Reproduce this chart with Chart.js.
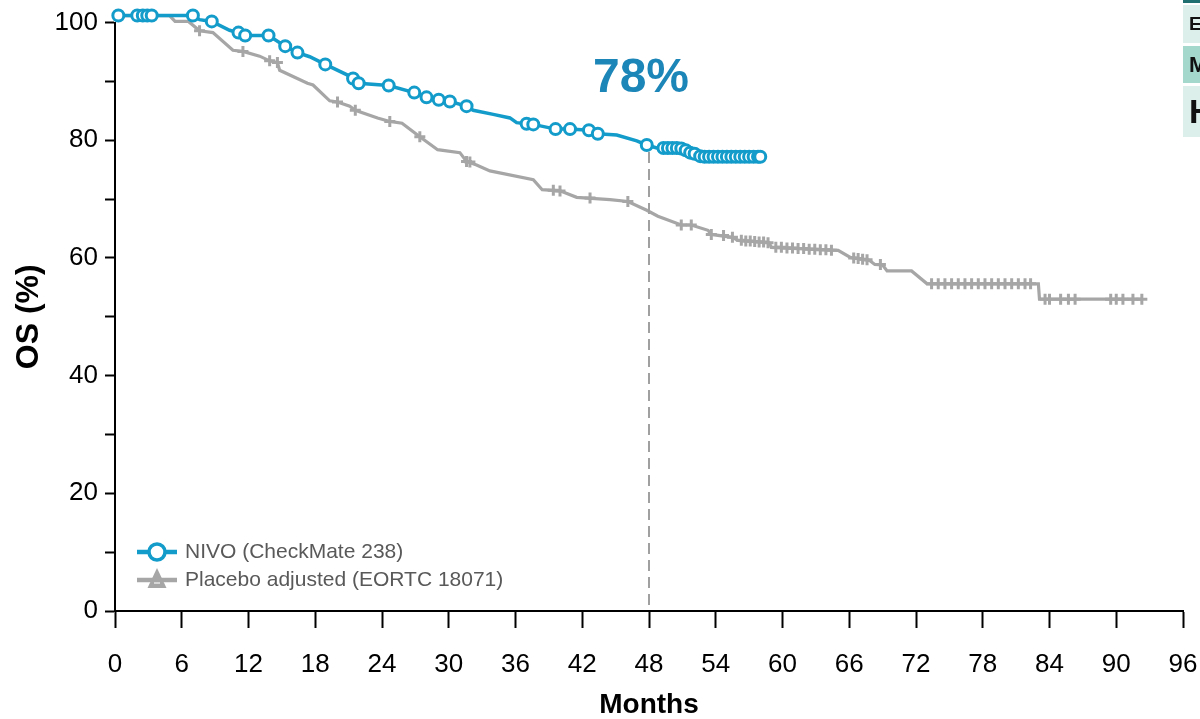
<!DOCTYPE html>
<html>
<head>
<meta charset="utf-8">
<script src="https://cdn.jsdelivr.net/npm/chart.js@4.4.1/dist/chart.umd.min.js"></script>
<style>
  html, body { margin: 0; padding: 0; background: #fff; overflow: hidden; }
  #wrap { position: relative; width: 1200px; height: 719px; overflow: hidden; }
  canvas { display: block; }
  .cell { position: absolute; left: 1183px; width: 40px; box-sizing: border-box; padding-left: 6px;
          font-family: "Liberation Sans", Arial, sans-serif; font-weight: bold; color: #111; }
</style>
</head>
<body>
<div id="wrap">
  <canvas id="os" width="1200" height="719"></canvas>
  <div class="cell" style="top:0;height:3px;background:#1f6e70"></div>
  <div class="cell" style="top:5px;height:38px;line-height:38px;font-size:19px;background:#dcefeb">E</div>
  <div class="cell" style="top:46px;height:37px;line-height:37px;font-size:22px;background:#a5d8cc">M</div>
  <div class="cell" style="top:86px;height:51px;line-height:51px;font-size:34px;background:#dcefeb">H</div>
</div>
<script>
// Kaplan–Meier overall survival, NIVO (CheckMate 238)
const nivoMonths = [0, 7.0, 7.6, 8.7, 10.3, 11.1, 11.7, 13.8, 15.3, 16.4, 17.5, 18.9, 21.0, 21.9, 24.6, 26.9, 28.0, 29.1, 30.1, 31.6,
  32.2, 34.0, 35.5, 36.1, 37.6, 39.6, 40.9, 42.6, 43.4, 45.1, 46.9, 47.8, 48.7, 50.8, 51.5, 52.6, 58.0];
const nivoOS = [101.2, 101.2, 100.5, 100.2, 98.7, 98.3, 97.8, 97.8, 96.0, 94.9, 94.2, 92.9, 91.0, 89.7, 89.3, 88.1, 87.3, 86.9, 86.6, 85.8,
  85.1, 84.4, 83.8, 83.0, 82.7, 81.9, 81.9, 81.7, 81.1, 80.9, 79.9, 79.2, 78.7, 78.6, 77.9, 77.3, 77.2];

// NIVO censored observations
const nivoCensorMonths = [0.3, 2.0, 2.5, 2.9, 3.3, 7.0, 8.7, 11.1, 11.7, 13.8, 15.3, 16.4, 18.9, 21.4, 21.9, 24.6, 26.9, 28.0, 29.1, 30.1,
  31.6, 37.0, 37.6, 39.6, 40.9, 42.6, 43.4, 47.8, 49.3, 49.7, 50.1, 50.5, 50.9, 51.3, 51.7, 52.1, 52.6, 53.0, 53.4, 53.8,
  54.2, 54.6, 55.0, 55.4, 55.8, 56.2, 56.6, 57.0, 57.4, 57.8, 58.0];
const nivoCensorOS = [101.2, 101.2, 101.2, 101.2, 101.2, 101.2, 100.2, 98.3, 97.8, 97.8, 96.0, 94.9, 92.9, 90.5, 89.7, 89.3, 88.1, 87.3, 86.9, 86.6,
  85.8, 82.8, 82.7, 81.9, 81.9, 81.7, 81.1, 79.2, 78.7, 78.7, 78.7, 78.7, 78.6, 78.3, 77.9, 77.7, 77.3, 77.2, 77.2, 77.2,
  77.2, 77.2, 77.2, 77.2, 77.2, 77.2, 77.2, 77.2, 77.2, 77.2, 77.2];

// Kaplan–Meier overall survival, placebo adjusted (EORTC 18071)
const placeboMonths = [0, 4.9, 5.4, 6.6, 7.6, 8.8, 10.6, 11.5, 13.0, 13.9, 14.6, 14.8, 17.3, 17.8, 19.3, 20.0, 21.1, 21.6, 23.6, 24.7,
  25.8, 27.4, 29.0, 31.0, 31.6, 32.5, 33.7, 37.6, 38.4, 40.0, 41.5, 44.5, 46.1, 47.8, 48.8, 50.9, 51.8, 53.3, 53.6, 55.5,
  56.0, 58.8, 59.0, 65.0, 66.1, 67.8, 68.3, 69.0, 69.4, 71.6, 73.0, 83.0, 83.1, 92.3];
const placeboOS = [101.2, 101.2, 100.2, 100.2, 98.6, 98.3, 95.3, 95.1, 94.3, 93.5, 93.2, 91.9, 89.7, 89.4, 86.7, 86.5, 85.8, 85.1, 83.8, 83.2,
  82.9, 80.6, 78.4, 77.9, 76.4, 75.8, 74.8, 73.3, 71.6, 71.4, 70.3, 69.9, 69.6, 68.1, 67.1, 65.6, 65.6, 64.7, 64.0, 63.5,
  63.0, 62.6, 61.8, 61.3, 60.1, 59.6, 58.9, 58.8, 57.8, 57.8, 55.6, 55.6, 53.0, 53.0];

// Placebo censored observations
const placeboCensorMonths = [2.1, 3.0, 7.6, 11.5, 13.9, 14.6, 20.0, 21.6, 24.7, 27.4, 31.6, 31.9, 39.4, 40.0, 42.7, 46.1, 50.9, 51.8, 53.6, 54.7,
  55.5, 56.3, 56.7, 57.1, 57.5, 57.9, 58.3, 58.7, 59.4, 59.9, 60.4, 60.9, 61.4, 61.9, 62.4, 62.9, 63.4, 63.9, 64.4, 66.4,
  66.8, 67.2, 67.6, 68.8, 73.4, 74.0, 74.6, 75.2, 75.8, 76.4, 77.0, 77.6, 78.2, 78.8, 79.4, 80.0, 80.6, 81.2, 81.8, 82.3,
  83.6, 84.0, 85.0, 85.7, 86.3, 89.5, 90.0, 90.6, 91.5, 92.3];
const placeboCensorOS = [101.2, 101.2, 98.6, 95.1, 93.5, 93.2, 86.5, 85.1, 83.2, 80.6, 76.4, 76.3, 71.5, 71.4, 70.2, 69.6, 65.6, 65.6, 64.0, 63.8,
  63.5, 63.0, 62.9, 62.9, 62.8, 62.7, 62.7, 62.6, 61.8, 61.8, 61.7, 61.7, 61.6, 61.6, 61.5, 61.5, 61.4, 61.4, 61.3, 60.0,
  59.9, 59.8, 59.7, 58.9, 55.6, 55.6, 55.6, 55.6, 55.6, 55.6, 55.6, 55.6, 55.6, 55.6, 55.6, 55.6, 55.6, 55.6, 55.6, 55.6,
  53.0, 53.0, 53.0, 53.0, 53.0, 53.0, 53.0, 53.0, 53.0, 53.0];

// 48-month landmark
const landmarkMonth = 48;
const landmarkOS = 78;
const landmarkLabel = '78%';

// Axis ticks
const monthTicks = [0, 6, 12, 18, 24, 30, 36, 42, 48, 54, 60, 66, 72, 78, 84, 90, 96];
const osTickLabels = [0, 20, 40, 60, 80, 100];
const osMinorTicks = [10, 30, 50, 70, 90];

const seriesNames = ['NIVO (CheckMate 238)', 'Placebo adjusted (EORTC 18071)'];

const BLUE = '#139bca';
const GREY = '#a6a6a6';
const FONT = '"Liberation Sans", Arial, Helvetica, sans-serif';

const toPoints = (xs, ys) => xs.map((x, i) => ({ x: x, y: ys[i] }));

// Legend drawn inside the plot, lower left, plus the landmark value
const innerLegend = {
  id: 'innerLegend',
  afterDatasetsDraw(chart) {
    const ctx = chart.ctx;
    ctx.save();
    const rows = [
      { y: 552, color: BLUE, marker: 'circle' },
      { y: 580, color: GREY, marker: 'triangle' }
    ];
    rows.forEach((r, i) => {
      ctx.strokeStyle = r.color;
      ctx.lineWidth = 4.5;
      ctx.beginPath();
      ctx.moveTo(137, r.y);
      ctx.lineTo(177, r.y);
      ctx.stroke();
      if (r.marker === 'circle') {
        ctx.fillStyle = '#fff';
        ctx.lineWidth = 3.5;
        ctx.beginPath();
        ctx.arc(157, r.y, 8, 0, Math.PI * 2);
        ctx.fill();
        ctx.stroke();
      } else {
        ctx.fillStyle = r.color;
        ctx.beginPath();
        ctx.moveTo(157, r.y - 12);
        ctx.lineTo(147.5, r.y + 8);
        ctx.lineTo(166.5, r.y + 8);
        ctx.closePath();
        ctx.fill();
        ctx.strokeStyle = '#e6e6e6';
        ctx.lineWidth = 1.5;
        ctx.beginPath();
        ctx.moveTo(154, r.y + 3);
        ctx.lineTo(160, r.y + 3);
        ctx.stroke();
      }
      ctx.fillStyle = '#595959';
      ctx.font = '21px ' + FONT;
      ctx.textAlign = 'left';
      ctx.textBaseline = 'middle';
      ctx.fillText(seriesNames[i], 185, r.y);
    });
    ctx.fillStyle = '#1d86b8';
    ctx.font = 'bold 48px ' + FONT;
    ctx.textAlign = 'center';
    ctx.textBaseline = 'middle';
    ctx.fillText(landmarkLabel, 641, 79);
    ctx.restore();
  }
};

new Chart(document.getElementById('os'), {
  type: 'line',
  data: {
    datasets: [
      {
        label: 'nivo-censor',
        data: toPoints(nivoCensorMonths, nivoCensorOS),
        showLine: false,
        pointStyle: 'circle',
        pointRadius: 5.5,
        pointBorderWidth: 3,
        pointBorderColor: BLUE,
        pointBackgroundColor: '#ffffff',
        clip: false
      },
      {
        label: seriesNames[0],
        data: toPoints(nivoMonths, nivoOS),
        borderColor: BLUE,
        borderWidth: 3.5,
        pointRadius: 0,
        tension: 0,
        clip: false
      },
      {
        label: 'landmark',
        data: [{ x: landmarkMonth, y: landmarkOS }, { x: landmarkMonth, y: 0 }],
        borderColor: '#a0a0a0',
        borderWidth: 2,
        borderDash: [11, 6],
        pointRadius: 0
      },
      {
        label: 'placebo-censor',
        data: toPoints(placeboCensorMonths, placeboCensorOS),
        showLine: false,
        pointStyle: 'cross',
        pointRadius: 5.5,
        pointBorderWidth: 3,
        pointBorderColor: GREY,
        clip: false
      },
      {
        label: seriesNames[1],
        data: toPoints(placeboMonths, placeboOS),
        borderColor: GREY,
        borderWidth: 3.2,
        pointRadius: 0,
        tension: 0,
        clip: false
      }
    ]
  },
  options: {
    responsive: false,
    devicePixelRatio: 1,
    animation: false,
    events: [],
    layout: { padding: { top: 19, right: 17, left: 0, bottom: 0 } },
    plugins: { legend: { display: false }, tooltip: { enabled: false } },
    scales: {
      x: {
        type: 'linear',
        min: 0,
        max: 96,
        afterBuildTicks: (s) => { s.ticks = monthTicks.map(v => ({ value: v })); },
        afterFit: (s) => { s.height = 108; s.paddingLeft = 0; s.paddingRight = 0; },
        ticks: { font: { family: FONT, size: 26 }, color: '#000', padding: 21, maxRotation: 0, autoSkip: false },
        grid: { drawOnChartArea: false, drawTicks: true, tickLength: 17, tickWidth: 2, tickColor: '#000' },
        border: { display: true, color: '#000', width: 2 },
        title: { display: true, text: 'Months', font: { family: FONT, size: 28, weight: 'bold' }, color: '#000', padding: { top: 0, bottom: -3 } }
      },
      y: {
        type: 'linear',
        min: 0,
        max: 100,
        afterBuildTicks: (s) => {
          s.ticks = osTickLabels.concat(osMinorTicks).sort((a, b) => a - b).map(v => ({ value: v }));
        },
        afterFit: (s) => { s.width = 115; },
        ticks: {
          font: { family: FONT, size: 26 }, color: '#000', padding: 7, autoSkip: false,
          callback: (v) => osTickLabels.includes(v) ? String(v) : ''
        },
        grid: { drawOnChartArea: false, drawTicks: true, tickLength: 10, tickWidth: 2, tickColor: '#000' },
        border: { display: true, color: '#000', width: 2 },
        title: { display: true, text: 'OS (%)', font: { family: FONT, size: 32, weight: 'bold' }, color: '#000', padding: { top: 10, bottom: 0 } }
      }
    }
  },
  plugins: [innerLegend]
});
</script>
</body>
</html>
